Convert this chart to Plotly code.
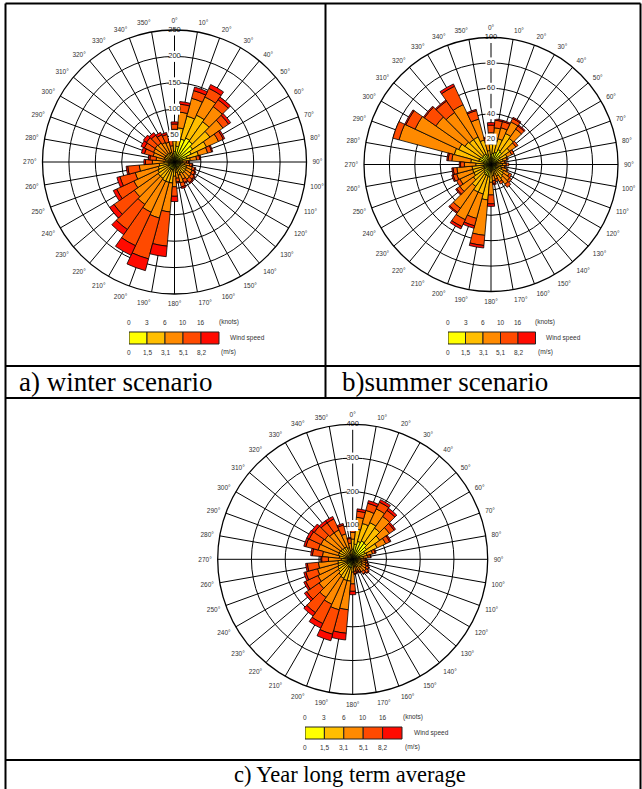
import plotly.graph_objects as go

# ---------------- data ----------------
DIRECTIONS = list(range(0, 360, 10))
DIR_LABELS = [f"{d}°" for d in DIRECTIONS]
CLASS_KNOTS = ["0", "3", "6", "10", "16"]
CLASS_MS = ["0", "1,5", "3,1", "5,1", "8,2"]
CLASS_COLORS = ["#FFFF00", "#FFBE00", "#FF8A00", "#FF4A00", "#FF0A00"]

# winter scenario, one list per speed class (0°..350°)
WINTER_C1 = [20, 30, 45, 50, 48, 42, 35, 25, 15, 8, 10, 12, 12, 12, 12, 11, 12, 10,
             12, 15, 15, 15, 14, 14, 13, 12, 11, 8, 7, 8, 8, 8, 8, 8, 8, 7]
WINTER_C2 = [20, 35, 45, 48, 45, 40, 32, 22, 15, 8, 10, 12, 13, 14, 14, 12, 14, 10,
             15, 25, 25, 25, 24, 24, 22, 20, 18, 12, 10, 12, 12, 12, 12, 11, 11, 9]
WINTER_C3 = [22, 30, 35, 38, 35, 30, 25, 18, 12, 7, 9, 11, 12, 13, 14, 13, 15, 11,
             20, 55, 70, 65, 60, 55, 50, 45, 38, 22, 18, 22, 24, 25, 24, 22, 20, 15]
WINTER_C4 = [10, 15, 15, 18, 16, 13, 10, 8, 6, 4, 5, 5, 6, 7, 8, 7, 8, 7,
             18, 65, 80, 70, 58, 47, 36, 30, 22, 13, 12, 17, 19, 20, 18, 16, 15, 11]
WINTER_C5 = [4, 5, 7, 8, 6, 5, 3, 2, 2, 1, 1, 2, 2, 2, 2, 2, 3, 2,
             10, 20, 23, 20, 12, 10, 7, 6, 3, 3, 3, 6, 7, 7, 6, 5, 4, 3]

# summer scenario
SUMMER_C1 = [8, 9, 10, 13, 12, 9, 7, 5, 4, 4, 4, 4, 5, 5, 6, 5, 4, 4,
             6, 10, 9, 9, 8, 7, 6, 6, 6, 5, 6, 10, 10, 9, 9, 9, 8, 5]
SUMMER_C2 = [8, 10, 11, 14, 13, 9, 7, 5, 4, 5, 4, 5, 6, 7, 7, 5, 4, 5,
             8, 18, 15, 15, 13, 10, 9, 9, 9, 7, 10, 20, 18, 16, 15, 15, 12, 6]
SUMMER_C3 = [9, 10, 9, 10, 9, 6, 4, 3, 3, 3, 3, 4, 5, 6, 6, 5, 4, 4,
             10, 28, 20, 24, 21, 13, 12, 13, 12, 9, 15, 45, 38, 28, 26, 28, 17, 7]
SUMMER_C4 = [6, 6, 5, 3, 3, 2, 2, 1, 1, 2, 1, 1, 2, 2, 3, 2, 2, 2,
             7, 8, 6, 6, 4, 3, 3, 3, 3, 3, 3, 5, 8, 11, 11, 16, 7, 3]
SUMMER_C5 = [2, 1, 1, 1, 1, 0, 0, 0, 0, 0, 0, 0, 0, 0, 0, 0, 0, 1,
             2, 2, 2, 2, 1, 1, 0, 1, 1, 1, 1, 0, 1, 1, 1, 2, 1, 1]

# year long term average
YEAR_C1 = [30, 45, 55, 60, 58, 50, 40, 22, 16, 12, 13, 14, 15, 16, 15, 12, 11, 11,
           16, 25, 25, 24, 22, 20, 19, 18, 17, 14, 15, 16, 16, 16, 15, 15, 14, 11]
YEAR_C2 = [30, 45, 55, 60, 55, 48, 40, 22, 16, 12, 13, 14, 15, 16, 15, 12, 11, 12,
           22, 40, 40, 38, 36, 32, 30, 28, 27, 20, 25, 28, 28, 27, 26, 26, 22, 15]
YEAR_C3 = [20, 35, 40, 45, 42, 35, 28, 17, 14, 10, 12, 13, 15, 17, 15, 13, 12, 13,
           35, 85, 90, 85, 80, 70, 65, 62, 58, 38, 50, 62, 60, 58, 55, 55, 42, 22]
YEAR_C4 = [8, 18, 22, 22, 22, 17, 13, 8, 7, 5, 6, 7, 8, 9, 8, 6, 6, 7,
           22, 70, 75, 63, 55, 45, 40, 36, 33, 20, 30, 38, 38, 38, 36, 36, 27, 14]
YEAR_C5 = [2, 7, 8, 8, 8, 5, 4, 3, 2, 1, 1, 2, 2, 2, 2, 2, 2, 2,
           10, 20, 20, 15, 12, 8, 6, 6, 5, 3, 5, 6, 8, 9, 8, 8, 5, 3]

WINTER_RTICKS = [50, 100, 150, 200, 250]
SUMMER_RTICKS = [20, 40, 60, 80, 100]
YEAR_RTICKS = [100, 200, 300, 400]

CAPTIONS = ["a) winter scenario", "b)summer scenario", "c) Year long term average"]

# ---------------- layout helpers ----------------
W, H = 642, 789


def px(x):
    return x / W


def py(y):
    return 1 - y / H


fig = go.Figure()

small_font = dict(family="Liberation Sans, Arial", size=6.5, color="#333")

roses = [
    ("polar", [WINTER_C1, WINTER_C2, WINTER_C3, WINTER_C4, WINTER_C5], WINTER_RTICKS, (174.5, 162, 132)),
    ("polar2", [SUMMER_C1, SUMMER_C2, SUMMER_C3, SUMMER_C4, SUMMER_C5], SUMMER_RTICKS, (491, 164.5, 127)),
    ("polar3", [YEAR_C1, YEAR_C2, YEAR_C3, YEAR_C4, YEAR_C5], YEAR_RTICKS, (352.7, 559.3, 135)),
]

for name, classes, rticks, (cx, cy, rad) in roses:
    for vals, col, lab in zip(classes, CLASS_COLORS, CLASS_MS):
        fig.add_trace(go.Barpolar(
            r=vals, theta=DIRECTIONS, subplot=name, name=lab,
            marker=dict(color=col, line=dict(color="#000000", width=0.8)),
            showlegend=False, hoverinfo="skip",
        ))
    fig.add_trace(go.Scatterpolar(
        r=rticks, theta=[0] * len(rticks), subplot=name, mode="markers+text",
        text=[str(v) for v in rticks], textposition="middle center",
        textfont=dict(family="Liberation Sans, Arial", size=7.5, color="#222"),
        marker=dict(symbol="square", size=11, color="white", line=dict(width=0)),
        cliponaxis=False, showlegend=False, hoverinfo="skip",
    ))
    fig.update_layout(**{name: dict(
        domain=dict(x=[px(cx - rad), px(cx + rad)], y=[py(cy + rad), py(cy - rad)]),
        bgcolor="white", barmode="stack", bargap=0,
        angularaxis=dict(rotation=90, direction="clockwise", tickmode="array",
                         tickvals=DIRECTIONS, ticktext=DIR_LABELS,
                         ticks="outside", ticklen=4, tickcolor="rgba(0,0,0,0)",
                         tickfont=small_font,
                         showline=True, linecolor="#000", linewidth=1.3,
                         gridcolor="#000", gridwidth=1),
        radialaxis=dict(range=[0, rticks[-1]], tickvals=rticks, showticklabels=False,
                        ticks="", showline=False, gridcolor="#000", gridwidth=1),
    )})

# ---------------- colour legends (cartesian) ----------------
legends = [  # left px, px per class, top px of boxes
    (129, 18, 332),
    (448, 17.5, 332),
    (305, 19.4, 727),
]
box_h = 12
ylo, yhi = -1.3, 2.3   # axis range in box-height units (box spans 0..1)
xs = [i + 0.5 for i in range(len(CLASS_COLORS))]
ones = [1] * len(CLASS_COLORS)
label_pos = list(range(len(CLASS_KNOTS))) + [5.55]
span = 6.6
for i, (lx, unit, top) in enumerate(legends):
    xa = "x" + (str(i + 1) if i else "")
    ya = "y" + (str(i + 1) if i else "")
    fig.add_trace(go.Bar(x=xs, y=ones, width=1, xaxis=xa, yaxis=ya,
                         marker=dict(color=CLASS_COLORS, line=dict(color="#222", width=1)),
                         showlegend=False, hoverinfo="skip"))
    y_top_px = top - (yhi - 1) * box_h
    y_bot_px = top + box_h + (-ylo) * box_h
    fig.update_layout(**{
        "xaxis" + (str(i + 1) if i else ""): dict(
            domain=[px(lx), px(lx + span * unit)], range=[0, span], anchor=ya,
            visible=False, fixedrange=True),
        "yaxis" + (str(i + 1) if i else ""): dict(
            domain=[py(y_bot_px), py(y_top_px)], range=[ylo, yhi], visible=False,
            anchor=xa, fixedrange=True),
    })
    for xpos, kt, ms in zip(label_pos, CLASS_KNOTS + ["(knots)"], CLASS_MS + ["(m/s)"]):
        fig.add_annotation(x=xpos, y=1.8, xref=xa, yref=ya, text=kt, showarrow=False,
                           xanchor="center", yanchor="middle", font=small_font)
        fig.add_annotation(x=xpos, y=-0.7, xref=xa, yref=ya, text=ms, showarrow=False,
                           xanchor="center", yanchor="middle", font=small_font)
    fig.add_annotation(x=5.5, y=0.5, xref=xa, yref=ya, text="Wind speed",
                       showarrow=False, xanchor="left", yanchor="middle",
                       font=small_font)

# ---------------- table frame ----------------
lw = 2
frame = [
    (5.5, 3.5, 640.5, 3.5), (5.5, 3.5, 5.5, 789), (640.5, 3.5, 640.5, 789),
    (325.5, 3.5, 325.5, 398), (5.5, 366, 640.5, 366), (5.5, 398, 640.5, 398),
    (5.5, 760, 640.5, 760),
]
for x0, y0, x1, y1 in frame:
    fig.add_shape(type="line", xref="paper", yref="paper", x0=px(x0), y0=py(y0),
                  x1=px(x1), y1=py(y1), line=dict(color="black", width=lw))

cap_font = dict(family="Liberation Serif, Times New Roman", size=27, color="black")
cap_font_c = dict(family="Liberation Serif, Times New Roman", size=22.5, color="black")
fig.add_annotation(x=px(17), y=py(382), xref="paper", yref="paper", text=CAPTIONS[0],
                   showarrow=False, xanchor="left", yanchor="middle", font=cap_font)
fig.add_annotation(x=px(340), y=py(382), xref="paper", yref="paper", text=CAPTIONS[1],
                   showarrow=False, xanchor="left", yanchor="middle", font=cap_font)
fig.add_annotation(x=px(350), y=py(774), xref="paper", yref="paper", text=CAPTIONS[2],
                   showarrow=False, xanchor="center", yanchor="middle", font=cap_font_c)

fig.update_layout(width=W, height=H, margin=dict(l=0, r=0, t=0, b=0),
                  paper_bgcolor="white", plot_bgcolor="white", showlegend=False)

fig.write_html("out.html", config={"displayModeBar": False},
               post_script="document.body.style.margin='0px';"
                           "document.body.style.overflow='hidden';")
